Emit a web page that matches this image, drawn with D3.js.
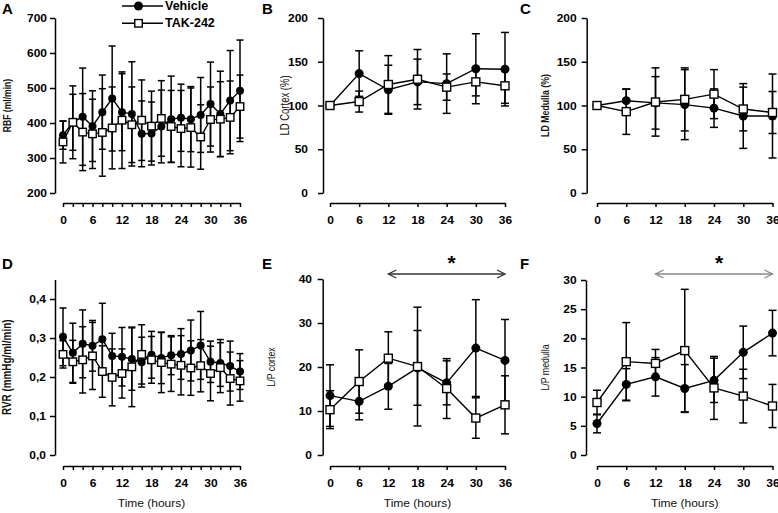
<!DOCTYPE html>
<html><head><meta charset="utf-8">
<script src="https://cdn.jsdelivr.net/npm/d3@7"></script>
<style>body{margin:0;background:#fff}svg{display:block}text{font-family:Arial,"Liberation Sans",sans-serif}</style>
</head><body><svg id="c" width="778" height="513"></svg>
<script>
// ---------- data ----------
const timesFine = [0,2,4,6,8,10,12,14,16,18,20,22,24,26,28,30,32,34,36];
const timesCoarse = [0,6,12,18,24,30,36];
const seriesNames = ["Vehicle","TAK-242"];

const rbfVehicle    = [365,402,418,391,431,470,431,426,369,370,390,411,415,411,423,454,426,464,492];
const rbfVehicleErr = [40,104,139,101,106,150,110,149,94,90,104,123,96,93,107,120,122,143,145];
const rbfTak        = [346,402,374,369,373,386,408,395,408,391,413,390,384,387,360,410,411,416,447];
const rbfTakErr     = [60,80,110,99,125,117,138,108,115,100,108,103,109,113,92,93,107,104,90];

const rvrVehicle    = [0.303,0.262,0.285,0.280,0.297,0.254,0.252,0.246,0.238,0.257,0.249,0.256,0.259,0.268,0.281,0.239,0.236,0.228,0.214];
const rvrVehicleErr = [0.074,0.076,0.087,0.065,0.092,0.058,0.075,0.080,0.064,0.060,0.066,0.050,0.065,0.078,0.087,0.053,0.060,0.064,0.046];
const rvrTak        = [0.258,0.239,0.244,0.254,0.214,0.199,0.209,0.226,0.258,0.244,0.237,0.233,0.230,0.223,0.229,0.209,0.224,0.196,0.190];
const rvrTakErr     = [0.035,0.055,0.085,0.086,0.066,0.073,0.063,0.102,0.076,0.060,0.077,0.070,0.076,0.070,0.067,0.070,0.064,0.068,0.052];

const ldCortexVehicle    = [100,136.5,118,127,125,142,141.5];
const ldCortexVehicleErr = [0,26,28,26,34,40,42];
const ldCortexTak        = [100,104.5,124,130,121,127,122.5];
const ldCortexTakErr     = [0,12,33,34,15,16,20];

const ldMedullaVehicle    = [100,105.5,103,101,97,88,88];
const ldMedullaVehicleErr = [0,13,30,40,22,37,48];
const ldMedullaTak        = [100,93,104,107,113,96,92];
const ldMedullaTakErr     = [0,26,39,36,28,25,24];

const lpCortexVehicle    = [13.5,12.2,15.6,19.8,16.4,24.3,21.5];
const lpCortexVehicleErr = [7.0,4.2,5.2,8.5,5.0,11.0,9.3];
const lpCortexTak        = [10.3,16.7,22.0,20.1,15.1,8.4,11.4];
const lpCortexTakErr     = [4.3,7.2,6.0,13.5,6.8,4.6,6.6];

const lpMedullaVehicle    = [5.4,12.1,13.4,11.4,12.8,17.6,20.9];
const lpMedullaVehicleErr = [1.6,2.7,3.3,4.1,3.8,4.5,3.9];
const lpMedullaTak        = [9.0,16.0,15.7,17.9,11.5,10.1,8.4];
const lpMedullaTakErr     = [2.1,6.7,2.4,10.5,5.4,4.6,3.7];

const ticksRBF = [200,300,400,500,600,700];
const ticksLD = [0,50,100,150,200];
const ticksRVR = [0,0.1,0.2,0.3,0.4];
const ticksLPC = [0,10,20,30,40];
const ticksLPM = [0,5,10,15,20,25,30];

// ---------- drawing ----------
const svg = d3.select("#c");
svg.append("rect").attr("width",778).attr("height",513).attr("fill","#fff");
const FONT = 'Arial,"Liberation Sans",sans-serif';
const HX = 1.2;
const commaFmt = d3.formatLocale({decimal:",",thousands:".",grouping:[3],currency:["",""]}).format(".1f");

function txt(g,x,y,s,o){
  o=o||{};
  const hx=o.hx||1;
  const t=g.append("text").text(s)
    .attr("font-family",FONT)
    .attr("font-size",o.size||10)
    .attr("font-weight",o.weight||"normal")
    .attr("text-anchor",o.anchor||"start")
    .attr("fill",o.fill||"#000");
  if(o.mid) t.attr("dominant-baseline","central");
  if(o.rotate) t.attr("transform",`translate(${x},${y}) rotate(-90) scale(1,${hx})`);
  else t.attr("transform",`translate(${x},${y}) scale(${hx},1)`);
  return t;
}

function panel(c){
  const x=d3.scaleLinear().domain([0,36]).range(c.xr);
  const y=d3.scaleLinear().domain(c.yd).range(c.yr);
  const g=svg.append("g");
  // y axis
  const ya=d3.axisLeft(y).tickValues(c.yticks).tickSize(5).tickSizeOuter(0)
    .tickFormat(c.fmt||d3.format("d"));
  const yg=g.append("g").attr("transform",`translate(${c.yx},0)`).call(ya);
  yg.attr("font-family",FONT).attr("font-size",10);
  yg.select(".domain").attr("stroke","#000").attr("stroke-width",1.5);
  yg.selectAll(".tick line").attr("stroke","#000").attr("stroke-width",1.5);
  yg.selectAll(".tick text").attr("x",-(c.lab)/HX).attr("dy","0.36em")
    .attr("transform",`scale(${HX},1)`).attr("font-weight","bold").attr("fill","#000");
  // x axis
  const xa=d3.axisBottom(x).tickValues(c.xticks).tickSize(4).tickSizeOuter(0)
    .tickFormat(d=> d%6===0 ? d : "");
  const xg=g.append("g").attr("transform",`translate(0,${c.xy})`).call(xa);
  xg.attr("font-family",FONT).attr("font-size",10);
  xg.select(".domain").attr("stroke","#000").attr("stroke-width",1.5);
  xg.selectAll(".tick line").attr("stroke","#000").attr("stroke-width",1.5);
  xg.selectAll(".tick text").attr("y",21.5).attr("dy",null)
    .attr("transform",`scale(${HX},1)`).attr("font-weight","bold").attr("fill","#000");

  const series=[
    {v:c.v1,e:c.e1,type:"circle"},
    {v:c.v2,e:c.e2,type:"square"}
  ];
  const times=c.times;
  // error bars
  series.forEach(s=>{
    const eg=g.append("g").attr("stroke","#000").attr("stroke-width",1.5);
    times.forEach((t,i)=>{
      if(!s.e[i]) return;
      const xx=x(t), y1=y(s.v[i]+s.e[i]), y0=y(s.v[i]-s.e[i]);
      eg.append("line").attr("x1",xx).attr("x2",xx).attr("y1",y1).attr("y2",y0);
      eg.append("line").attr("x1",xx-c.cap/2).attr("x2",xx+c.cap/2).attr("y1",y1).attr("y2",y1);
      eg.append("line").attr("x1",xx-c.cap/2).attr("x2",xx+c.cap/2).attr("y1",y0).attr("y2",y0);
    });
  });
  // lines
  series.forEach(s=>{
    const line=d3.line().x((d,i)=>x(times[i])).y(d=>y(d));
    g.append("path").datum(s.v).attr("d",line).attr("fill","none").attr("stroke","#000").attr("stroke-width",1.4);
  });
  // markers
  g.append("g").selectAll("circle").data(c.v1).join("circle")
    .attr("cx",(d,i)=>x(times[i])).attr("cy",d=>y(d)).attr("r",c.r).attr("fill","#000");
  g.append("g").selectAll("rect").data(c.v2).join("rect")
    .attr("x",(d,i)=>x(times[i])-c.sq/2).attr("y",d=>y(d)-c.sq/2)
    .attr("width",c.sq).attr("height",c.sq).attr("fill","#fff").attr("stroke","#000").attr("stroke-width",1.4);

  // axis title
  txt(g,c.tx,(c.yr[0]+c.yr[1])/2+c.tyOff,c.title,{size:c.tsize,weight:c.tweight,anchor:"middle",rotate:true,hx:1.3,mid:true,fill:"#111"});
  if(c.xtitle) txt(g,(c.xr[0]+c.xr[1])/2,507,c.xtitle,{size:10,anchor:"middle",hx:1.2,fill:"#111"});
  // panel letter
  txt(g,c.lx,c.ly,c.letter,{size:15,weight:"bold"});
  // significance arrow
  if(c.sig){
    const ay=274, xa0=x(12), xa1=x(36);
    const ag=g.append("g").attr("stroke",c.sigColor).attr("stroke-width",1.3).attr("fill","none");
    ag.append("line").attr("x1",xa0).attr("x2",xa1).attr("y1",ay).attr("y2",ay);
    ag.append("path").attr("d",`M${xa0+8},${ay-4}L${xa0},${ay}L${xa0+8},${ay+4}`);
    ag.append("path").attr("d",`M${xa1-8},${ay-4}L${xa1},${ay}L${xa1-8},${ay+4}`);
    txt(g,x(24)+5,270,"*",{size:21,weight:"bold",anchor:"middle"});
  }
  return {x,y};
}

panel({letter:"A",lx:2,ly:14,times:timesFine,xr:[63,240],yd:[200,700],yr:[193,18],yx:55,xy:203,
  yticks:ticksRBF,xticks:timesFine,lab:8,v1:rbfVehicle,e1:rbfVehicleErr,v2:rbfTak,e2:rbfTakErr,
  cap:7,r:4,sq:7.5,title:"RBF (ml/min)",tsize:8.6,tweight:"bold",tx:7,tyOff:0});
panel({letter:"B",lx:262,ly:14,times:timesCoarse,xr:[330,505],yd:[0,200],yr:[193,18],yx:323,xy:203,
  yticks:ticksLD,xticks:timesCoarse,lab:15,v1:ldCortexVehicle,e1:ldCortexVehicleErr,v2:ldCortexTak,e2:ldCortexTakErr,
  cap:8,r:4.5,sq:8,title:"LD Cortex (%)",tsize:9.5,tweight:"normal",tx:285,tyOff:0});
panel({letter:"C",lx:520,ly:14,times:timesCoarse,xr:[597,772.5],yd:[0,200],yr:[193,18],yx:586.7,xy:203,
  yticks:ticksLD,xticks:timesCoarse,lab:10,v1:ldMedullaVehicle,e1:ldMedullaVehicleErr,v2:ldMedullaTak,e2:ldMedullaTakErr,
  cap:8,r:4.5,sq:8,title:"LD Medulla (%)",tsize:8.8,tweight:"bold",tx:545,tyOff:0});
panel({letter:"D",lx:2,ly:269,times:timesFine,xr:[63,240],yd:[0,0.45],yr:[455,279.5],yx:55,xy:466,
  yticks:ticksRVR,xticks:timesFine,lab:9,fmt:commaFmt,v1:rvrVehicle,e1:rvrVehicleErr,v2:rvrTak,e2:rvrTakErr,
  cap:7,r:4,sq:7.5,title:"RVR (mmHg/ml/min)",tsize:9.9,tweight:"bold",tx:7,tyOff:0,xtitle:"Time (hours)"});
panel({letter:"E",lx:262,ly:269,times:timesCoarse,xr:[330,505],yd:[0,40],yr:[455,279],yx:322.7,xy:466,
  yticks:ticksLPC,xticks:timesCoarse,lab:10.7,v1:lpCortexVehicle,e1:lpCortexVehicleErr,v2:lpCortexTak,e2:lpCortexTakErr,
  cap:8,r:4.5,sq:8,title:"L/P cortex",tsize:8.8,tweight:"normal",tx:271,tyOff:0,xtitle:"Time (hours)",sig:true,sigColor:"#333"});
panel({letter:"F",lx:520,ly:269,times:timesCoarse,xr:[597,772.5],yd:[0,30],yr:[455,280],yx:586,xy:466,
  yticks:ticksLPM,xticks:timesCoarse,lab:9.3,v1:lpMedullaVehicle,e1:lpMedullaVehicleErr,v2:lpMedullaTak,e2:lpMedullaTakErr,
  cap:8,r:4.5,sq:8,title:"L/P medulla",tsize:8.8,tweight:"normal",tx:545,tyOff:0,xtitle:"Time (hours)",sig:true,sigColor:"#888"});

// legend
const lg=svg.append("g");
[{name:seriesNames[0],y:6,type:"circle"},{name:seriesNames[1],y:23.3,type:"square"}].forEach(d=>{
  lg.append("line").attr("x1",122).attr("x2",163).attr("y1",d.y).attr("y2",d.y).attr("stroke","#000").attr("stroke-width",1.5);
  if(d.type==="circle") lg.append("circle").attr("cx",138.5).attr("cy",d.y).attr("r",4.5).attr("fill","#000");
  else lg.append("rect").attr("x",138.5-3.75).attr("y",d.y-3.75).attr("width",7.5).attr("height",7.5).attr("fill","#fff").attr("stroke","#000").attr("stroke-width",1.4);
  txt(lg,165,d.y,d.name,{size:12.5,weight:"bold",mid:true});
});
</script></body></html>
